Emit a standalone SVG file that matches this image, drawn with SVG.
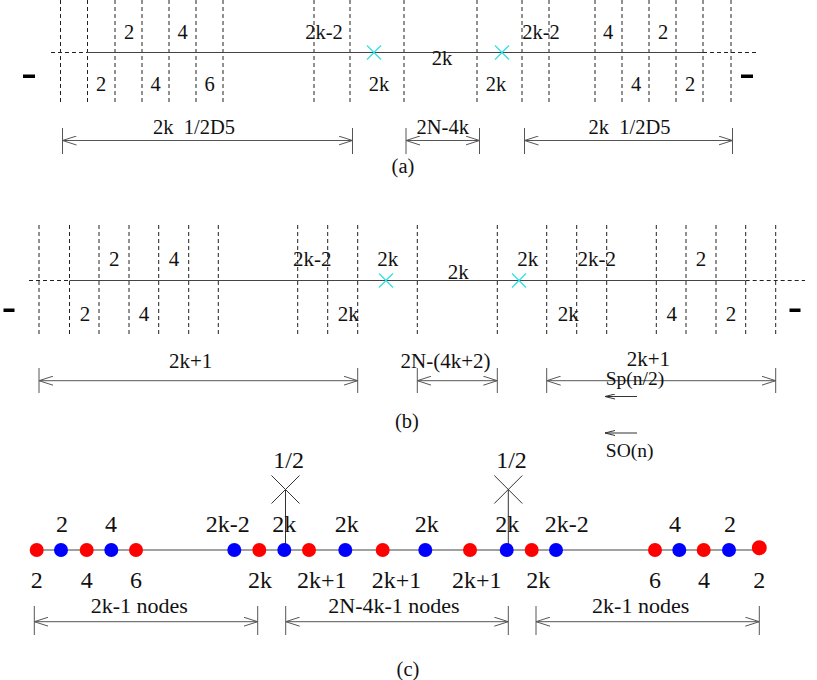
<svg xmlns="http://www.w3.org/2000/svg" width="817" height="680" viewBox="0 0 817 680">
<defs>
<style>
text{font-family:"Liberation Serif","Times New Roman",serif;fill:#111;text-anchor:middle}
.fa{font-size:20.5px}
.fb{font-size:21px}
.fc{font-size:24px}
.fd{font-size:22px}
.fs{font-size:19.5px}
.dash{stroke:#222;stroke-width:1;stroke-dasharray:4,3;fill:none}
.axis{stroke:#444;stroke-width:1.2;fill:none}
.dim{stroke:#555;stroke-width:1;fill:none}
.cyan{stroke:#30e0e0;stroke-width:1.2;fill:none}
.blk{stroke:#333;stroke-width:1;fill:none}
.r{fill:#ff0000}
.b{fill:#0000ff}
</style>
<marker id="ah" viewBox="0 0 14 10" refX="14" refY="5" markerWidth="14" markerHeight="10" markerUnits="userSpaceOnUse" orient="auto-start-reverse">
<path d="M0,0.5 L14,5 L0,9.5" fill="none" stroke="#555" stroke-width="1"/>
</marker>
<marker id="sh" viewBox="0 0 10 6" refX="10" refY="3" markerWidth="10" markerHeight="6" markerUnits="userSpaceOnUse" orient="auto">
<path d="M0,0.5 L10,3 L0,5.5" fill="none" stroke="#333" stroke-width="1"/>
</marker>
</defs>
<rect width="817" height="680" fill="#fff"/>

<!-- Panel (a) -->
<g id="panel-a">
<g id="a-grid">
<path class="dash" d="M60.5,0V102M87.5,0V102M115,0V102M142,0V102M169,0V102M196,0V102M223,0V102M314,0V102M350,0V102M404,0V102M477,0V102M522,0V102M549,0V102M595,0V102M622,0V102M649,0V102M676,0V102M703,0V102M731,0V102"/>
<path class="dash" d="M51,52.5H87M703,52.5H758"/>
<path class="axis" d="M87,52.5H703"/>
<path class="cyan" d="M367,45.5L381,59.5M381,45.5L367,59.5M495,45.5L509,59.5M509,45.5L495,59.5"/>
<rect x="23" y="74.5" width="12" height="3.5" fill="#000"/>
<rect x="741" y="74.5" width="12" height="3.5" fill="#000"/>
</g>
<g id="a-labels" class="fa">
<text x="129" y="39">2</text><text x="182.7" y="39">4</text><text x="324" y="39">2k-2</text>
<text x="541" y="39">2k-2</text><text x="608" y="39">4</text><text x="663" y="39">2</text>
<text x="442" y="65">2k</text>
<text x="101" y="91">2</text><text x="155.7" y="91">4</text><text x="209.7" y="91">6</text><text x="379" y="91">2k</text>
<text x="496" y="91">2k</text><text x="636" y="91">4</text><text x="690" y="91">2</text>
</g>
<g id="a-dims">
<path class="dim" d="M62.5,128V154M352.5,128V154M406,128V154M479.5,128V154M524.5,128V154M732.5,128V154"/>
<path class="dim" marker-start="url(#ah)" marker-end="url(#ah)" d="M62.5,140.5H352.5"/>
<path class="dim" marker-start="url(#ah)" marker-end="url(#ah)" d="M406,140.5H479.5"/>
<path class="dim" marker-start="url(#ah)" marker-end="url(#ah)" d="M524.5,140.5H732.5"/>
<text class="fa" x="194" y="134" xml:space="preserve">2k&#160;&#160;1/2D5</text>
<text class="fa" x="442.7" y="134">2N-4k</text>
<text class="fa" x="629.5" y="134" xml:space="preserve">2k&#160;&#160;1/2D5</text>
</g>
<text class="fa" x="403" y="173">(a)</text>
</g>

<!-- Panel (b) -->
<g id="panel-b">
<g id="b-grid">
<path class="dash" d="M39,225V334M69.5,225V334M99,225V334M129,225V334M158.7,225V334M188.7,225V334M218.3,225V334M297.7,225V334M327.7,225V334M357.7,225V334M417.3,225V334M497.3,225V334M546.7,225V334M576.7,225V334M606.7,225V334M656.3,225V334M686,225V334M716,225V334M745.7,225V334M775.7,225V334"/>
<path class="dash" d="M29,280.5H69.5M745.7,280.5H805"/>
<path class="axis" d="M69.5,280.5H745.7"/>
<path class="cyan" d="M379,273.5L393,287.5M393,273.5L379,287.5M512,273.5L526,287.5M526,273.5L512,287.5"/>
<rect x="3.5" y="308.5" width="11" height="3.5" fill="#000"/>
<rect x="789.5" y="308.5" width="11" height="3.5" fill="#000"/>
</g>
<g id="b-labels" class="fb">
<text x="114.3" y="266">2</text><text x="174" y="266">4</text><text x="312.3" y="266">2k-2</text><text x="387.7" y="266">2k</text>
<text x="527.7" y="266">2k</text><text x="596.7" y="266">2k-2</text><text x="701" y="266">2</text>
<text x="458.3" y="279">2k</text>
<text x="85" y="321">2</text><text x="144" y="321">4</text><text x="348.3" y="321">2k</text>
<text x="568.3" y="321">2k</text><text x="671.7" y="321">4</text><text x="731" y="321">2</text>
</g>
<g id="b-dims">
<path class="dim" d="M39,368V393M357.7,368V393M417.3,368V393M497.3,368V393M546.7,368V393M775.7,368V393"/>
<path class="dim" marker-start="url(#ah)" marker-end="url(#ah)" d="M39,380.7H357.7"/>
<path class="dim" marker-start="url(#ah)" marker-end="url(#ah)" d="M417.3,380.7H497.3"/>
<path class="dim" marker-start="url(#ah)" marker-end="url(#ah)" d="M546.7,380.7H775.7"/>
<text class="fb" x="190.7" y="367.5">2k+1</text>
<text class="fb" x="445.5" y="367.5">2N-(4k+2)</text>
<text class="fb" x="648.3" y="366">2k+1</text>
</g>
<g id="b-legend">
<text class="fs" x="635" y="385">Sp(n/2)</text>
<path class="blk" marker-end="url(#sh)" d="M637,396.5H605"/>
<path class="blk" marker-end="url(#sh)" d="M637,433H605"/>
<text class="fs" x="629.7" y="457">SO(n)</text>
</g>
<text class="fa" x="407" y="428">(b)</text>
</g>

<!-- Panel (c) -->
<g id="panel-c">
<g id="c-connectors">
<path class="axis" d="M36.7,550H758.3"/>
<path class="blk" d="M285.5,489.5V550M508.3,489.5V550"/>
<path class="blk" d="M271.5,475.5L299.5,503.5M299.5,475.5L271.5,503.5M494.3,475.5L522.3,503.5M522.3,475.5L494.3,503.5"/>
</g>
<g id="c-nodes">
<circle class="r" cx="36.7" cy="550" r="7"/>
<circle class="b" cx="61" cy="550" r="7"/>
<circle class="r" cx="86.7" cy="550" r="7"/>
<circle class="b" cx="111.3" cy="550" r="7"/>
<circle class="r" cx="136" cy="550" r="7"/>
<circle class="b" cx="234.3" cy="550" r="7"/>
<circle class="r" cx="259.3" cy="550" r="7"/>
<circle class="b" cx="284.3" cy="550" r="7"/>
<circle class="r" cx="309" cy="550" r="7"/>
<circle class="b" cx="345.3" cy="550" r="7"/>
<circle class="r" cx="382.7" cy="550" r="7"/>
<circle class="b" cx="425.3" cy="550" r="7"/>
<circle class="r" cx="470" cy="550" r="7"/>
<circle class="b" cx="506.7" cy="550" r="7"/>
<circle class="r" cx="531.7" cy="550" r="7"/>
<circle class="b" cx="556" cy="550" r="7"/>
<circle class="r" cx="655" cy="550" r="7"/>
<circle class="b" cx="679.3" cy="550" r="7"/>
<circle class="r" cx="703.7" cy="550" r="7"/>
<circle class="b" cx="729" cy="550" r="7"/>
<circle class="r" cx="759.3" cy="547.7" r="7.5"/>
</g>
<g id="c-labels" class="fc">
<text x="288.7" y="468">1/2</text><text x="511.5" y="468">1/2</text>
<text x="62" y="532">2</text><text x="111" y="532">4</text><text x="227.7" y="532">2k-2</text><text x="284.3" y="532">2k</text>
<text x="346.7" y="532">2k</text><text x="426.7" y="532">2k</text><text x="507.3" y="532">2k</text><text x="566.7" y="532">2k-2</text>
<text x="675" y="532">4</text><text x="730" y="532">2</text>
<text x="36.7" y="588">2</text><text x="86.7" y="588">4</text><text x="136" y="588">6</text><text x="260" y="588">2k</text>
<text x="321.7" y="588">2k+1</text><text x="396.5" y="588">2k+1</text><text x="476.7" y="588">2k+1</text><text x="538.3" y="588">2k</text>
<text x="655" y="588">6</text><text x="704" y="588">4</text><text x="759.3" y="588">2</text>
</g>
<g id="c-dims">
<path class="dim" d="M34.3,606V635M257.7,606V635M285.7,606V635M508.3,606V635M536,606V635M759.3,606V635"/>
<path class="dim" marker-start="url(#ah)" marker-end="url(#ah)" d="M34.3,621.7H257.7"/>
<path class="dim" marker-start="url(#ah)" marker-end="url(#ah)" d="M285.7,621.7H508.3"/>
<path class="dim" marker-start="url(#ah)" marker-end="url(#ah)" d="M536,621.7H759.3"/>
<text class="fd" x="139.3" y="613">2k-1 nodes</text>
<text class="fd" x="394" y="613">2N-4k-1 nodes</text>
<text class="fd" x="640.7" y="613">2k-1 nodes</text>
</g>
<text class="fa" x="408" y="676">(c)</text>
</g>
</svg>
